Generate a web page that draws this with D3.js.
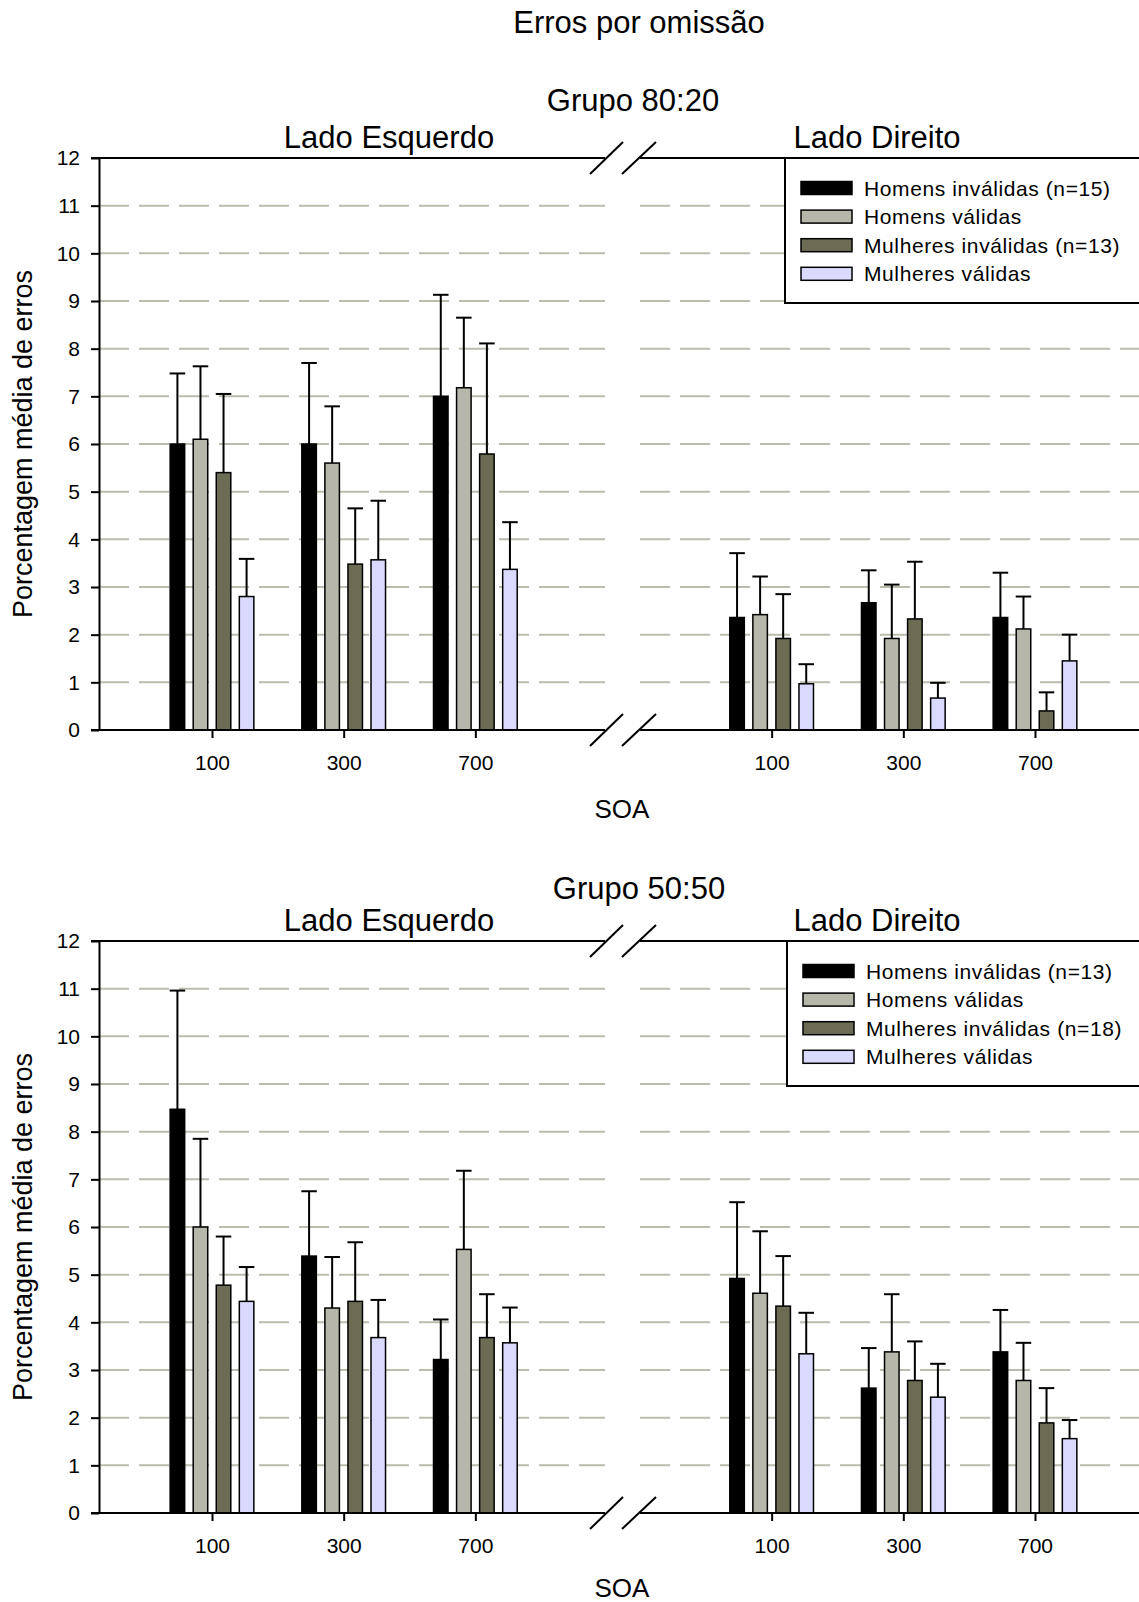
<!DOCTYPE html>
<html>
<head>
<meta charset="utf-8">
<script src="https://cdn.jsdelivr.net/npm/d3@7"></script>
<style>
  body { margin: 0; background: #fff; }
  text { font-family: "Liberation Sans", Arial, sans-serif; fill: #000; }
</style>
</head>
<body>
<div id="chart"></div>
<script>
// categories
var soa = ["100", "300", "700"];
var seriesNames = ["Homens inválidas", "Homens válidas", "Mulheres inválidas", "Mulheres válidas"];
var legend8020 = ["Homens inválidas (n=15)", "Homens válidas", "Mulheres inválidas (n=13)", "Mulheres válidas"];
var legend5050 = ["Homens inválidas (n=13)", "Homens válidas", "Mulheres inválidas (n=18)", "Mulheres válidas"];
var yTicks = [0, 1, 2, 3, 4, 5, 6, 7, 8, 9, 10, 11, 12];

// Grupo 80:20 - lado esquerdo (means, upper error)
var g80_esq_homInv = [6.0, 6.0, 7.0],   g80_esq_homInv_err = [1.48, 1.70, 2.13];
var g80_esq_homVal = [6.1, 5.6, 7.18],  g80_esq_homVal_err = [1.53, 1.19, 1.47];
var g80_esq_mulInv = [5.4, 3.48, 5.79], g80_esq_mulInv_err = [1.65, 1.17, 2.32];
var g80_esq_mulVal = [2.8, 3.57, 3.37], g80_esq_mulVal_err = [0.79, 1.24, 0.99];
// Grupo 80:20 - lado direito
var g80_dir_homInv = [2.36, 2.67, 2.36], g80_dir_homInv_err = [1.35, 0.68, 0.94];
var g80_dir_homVal = [2.42, 1.92, 2.12], g80_dir_homVal_err = [0.80, 1.13, 0.68];
var g80_dir_mulInv = [1.92, 2.33, 0.40], g80_dir_mulInv_err = [0.93, 1.20, 0.39];
var g80_dir_mulVal = [0.97, 0.67, 1.45], g80_dir_mulVal_err = [0.41, 0.32, 0.55];
// Grupo 50:50 - lado esquerdo
var g50_esq_homInv = [8.47, 5.39, 3.22], g50_esq_homInv_err = [2.49, 1.36, 0.84];
var g50_esq_homVal = [6.0, 4.30, 5.53],  g50_esq_homVal_err = [1.85, 1.07, 1.65];
var g50_esq_mulInv = [4.78, 4.44, 3.68], g50_esq_mulInv_err = [1.02, 1.24, 0.91];
var g50_esq_mulVal = [4.44, 3.68, 3.57], g50_esq_mulVal_err = [0.72, 0.79, 0.74];
// Grupo 50:50 - lado direito
var g50_dir_homInv = [4.92, 2.62, 3.38], g50_dir_homInv_err = [1.60, 0.84, 0.88];
var g50_dir_homVal = [4.61, 3.38, 2.78], g50_dir_homVal_err = [1.30, 1.21, 0.79];
var g50_dir_mulInv = [4.34, 2.78, 1.89], g50_dir_mulInv_err = [1.05, 0.82, 0.73];
var g50_dir_mulVal = [3.34, 2.43, 1.56], g50_dir_mulVal_err = [0.86, 0.70, 0.39];

var colors = ["#000000", "#b6b6aa", "#6c6c55", "#dadaff"];

var width = 1139, height = 1602;
var left = 99, right = 1139, breakL = 605, breakR = 640, plotH = 572;

var svg = d3.select("#chart").append("svg")
    .attr("width", width)
    .attr("height", height);

svg.append("rect").attr("width", width).attr("height", height).attr("fill", "#fff");

svg.append("text")
    .attr("x", 639).attr("y", 33)
    .attr("text-anchor", "middle")
    .style("font-size", "31px")
    .text("Erros por omissão");

// slot positions: left side 0..2, right side 4.25..6.25
var slots = { esq: [0, 1, 2], dir: [4.25, 5.25, 6.25] };
var x = d3.scaleLinear().domain([0, 6.25]).range([212, 1035]);
var xs = d3.scaleBand().domain(seriesNames).range([-46, 46]).paddingInner(0.37).paddingOuter(0.18);

function buildRows(side, means, errs) {
  var rows = [];
  soa.forEach(function(s, i) {
    seriesNames.forEach(function(n, j) {
      rows.push({ slot: slots[side][i], series: n, idx: j, v: means[j][i], e: errs[j][i] });
    });
  });
  return rows;
}

function drawPanel(top, p) {
  var g = svg.append("g").attr("transform", "translate(0," + top + ")");
  var y = d3.scaleLinear().domain([0, 12]).range([plotH, 0]);

  // titles
  g.append("text").attr("x", p.titleX).attr("y", p.titleY)
    .attr("text-anchor", "middle").style("font-size", "31px").text(p.title);
  g.append("text").attr("x", 389).attr("y", -10)
    .attr("text-anchor", "middle").style("font-size", "31px").text("Lado Esquerdo");
  g.append("text").attr("x", 877).attr("y", -10)
    .attr("text-anchor", "middle").style("font-size", "31px").text("Lado Direito");

  // gridlines
  var grid = g.append("g");
  [[left, breakL], [breakR, right]].forEach(function(seg) {
    grid.selectAll(null)
      .data(yTicks.slice(1, 12))
      .enter().append("line")
      .attr("x1", seg[0]).attr("x2", seg[1])
      .attr("y1", function(d) { return y(d); })
      .attr("y2", function(d) { return y(d); })
      .attr("stroke", "#bcbcae")
      .attr("stroke-width", 2)
      .attr("stroke-dasharray", "30,10");
  });

  var rows = buildRows("esq", p.esq, p.esqErr).concat(buildRows("dir", p.dir, p.dirErr));

  // error bars
  var eb = g.append("g").attr("stroke", "#000").attr("stroke-width", 2);
  eb.selectAll(null).data(rows).enter().append("line")
    .attr("x1", function(d) { return x(d.slot) + xs(d.series) + xs.bandwidth() / 2; })
    .attr("x2", function(d) { return x(d.slot) + xs(d.series) + xs.bandwidth() / 2; })
    .attr("y1", function(d) { return y(d.v); })
    .attr("y2", function(d) { return y(d.v + d.e); });
  eb.selectAll(null).data(rows).enter().append("line")
    .attr("x1", function(d) { return x(d.slot) + xs(d.series) - 0.5; })
    .attr("x2", function(d) { return x(d.slot) + xs(d.series) + xs.bandwidth() + 0.5; })
    .attr("y1", function(d) { return y(d.v + d.e); })
    .attr("y2", function(d) { return y(d.v + d.e); });

  // bars
  g.append("g").selectAll("rect")
    .data(rows)
    .enter().append("rect")
    .attr("x", function(d) { return x(d.slot) + xs(d.series); })
    .attr("y", function(d) { return y(d.v); })
    .attr("width", xs.bandwidth())
    .attr("height", function(d) { return plotH - y(d.v); })
    .attr("fill", function(d) { return colors[d.idx]; })
    .attr("stroke", "#000")
    .attr("stroke-width", 1.5);

  // y axis
  var ya = g.append("g")
    .attr("transform", "translate(" + left + ",0)")
    .call(d3.axisLeft(y).tickValues(yTicks).tickSize(8).tickSizeOuter(0).tickPadding(11));
  ya.select(".domain").attr("stroke-width", 2);
  ya.selectAll(".tick line").attr("stroke-width", 2);
  ya.selectAll("text").style("font-size", "21px").style("font-family", "Liberation Sans, Arial, sans-serif");

  // x axis ticks and labels
  var ticks = slots.esq.concat(slots.dir);
  var labels = soa.concat(soa);
  var xa = g.append("g")
    .attr("transform", "translate(0," + plotH + ")")
    .call(d3.axisBottom(x).tickValues(ticks).tickSize(8).tickPadding(17)
      .tickFormat(function(d, i) { return labels[i]; }));
  xa.select(".domain").remove();
  xa.selectAll(".tick line").attr("stroke-width", 2);
  xa.selectAll("text").style("font-size", "21px").style("font-family", "Liberation Sans, Arial, sans-serif");

  // frame lines (bottom and top) with break
  var frame = g.append("g").attr("stroke", "#000").attr("stroke-width", 2);
  [0, plotH].forEach(function(yy) {
    frame.append("line").attr("x1", left - 8).attr("x2", breakL).attr("y1", yy).attr("y2", yy);
    frame.append("line").attr("x1", breakR).attr("x2", right).attr("y1", yy).attr("y2", yy);
    frame.append("line").attr("x1", 590).attr("y1", yy + 16).attr("x2", 623).attr("y2", yy - 16);
    frame.append("line").attr("x1", 622).attr("y1", yy + 16).attr("x2", 656).attr("y2", yy - 16);
  });

  g.append("text").attr("x", 622).attr("y", plotH + p.soaDy)
    .attr("text-anchor", "middle").style("font-size", "26px").text("SOA");

  g.append("text")
    .attr("transform", "translate(32," + (plotH / 2) + ") rotate(-90)")
    .attr("text-anchor", "middle").style("font-size", "27px")
    .text("Porcentagem média de erros");

  // legend
  var lg = g.append("g").attr("transform", "translate(" + p.legX + ",0)");
  lg.append("rect").attr("x", 0).attr("y", 0).attr("width", 420).attr("height", 145)
    .attr("fill", "#fff").attr("stroke", "#000").attr("stroke-width", 2);
  var item = lg.selectAll(".item").data(p.legend).enter().append("g")
    .attr("transform", function(d, i) { return "translate(16," + (30 + i * 28.6) + ")"; });
  item.append("rect").attr("x", 0).attr("y", -6.5).attr("width", 51).attr("height", 13)
    .attr("fill", function(d, i) { return colors[i]; })
    .attr("stroke", "#000").attr("stroke-width", 1.5);
  item.append("text").attr("x", 63).attr("dy", "0.36em")
    .style("font-size", "21px").style("letter-spacing", "0.6px").text(function(d) { return d; });
}

drawPanel(158, {
  title: "Grupo 80:20", titleX: 633, titleY: -47, soaDy: 88,
  esq: [g80_esq_homInv, g80_esq_homVal, g80_esq_mulInv, g80_esq_mulVal],
  esqErr: [g80_esq_homInv_err, g80_esq_homVal_err, g80_esq_mulInv_err, g80_esq_mulVal_err],
  dir: [g80_dir_homInv, g80_dir_homVal, g80_dir_mulInv, g80_dir_mulVal],
  dirErr: [g80_dir_homInv_err, g80_dir_homVal_err, g80_dir_mulInv_err, g80_dir_mulVal_err],
  legend: legend8020, legX: 785
});

drawPanel(941, {
  title: "Grupo 50:50", titleX: 639, titleY: -42, soaDy: 84,
  esq: [g50_esq_homInv, g50_esq_homVal, g50_esq_mulInv, g50_esq_mulVal],
  esqErr: [g50_esq_homInv_err, g50_esq_homVal_err, g50_esq_mulInv_err, g50_esq_mulVal_err],
  dir: [g50_dir_homInv, g50_dir_homVal, g50_dir_mulInv, g50_dir_mulVal],
  dirErr: [g50_dir_homInv_err, g50_dir_homVal_err, g50_dir_mulInv_err, g50_dir_mulVal_err],
  legend: legend5050, legX: 787
});
</script>
</body>
</html>
